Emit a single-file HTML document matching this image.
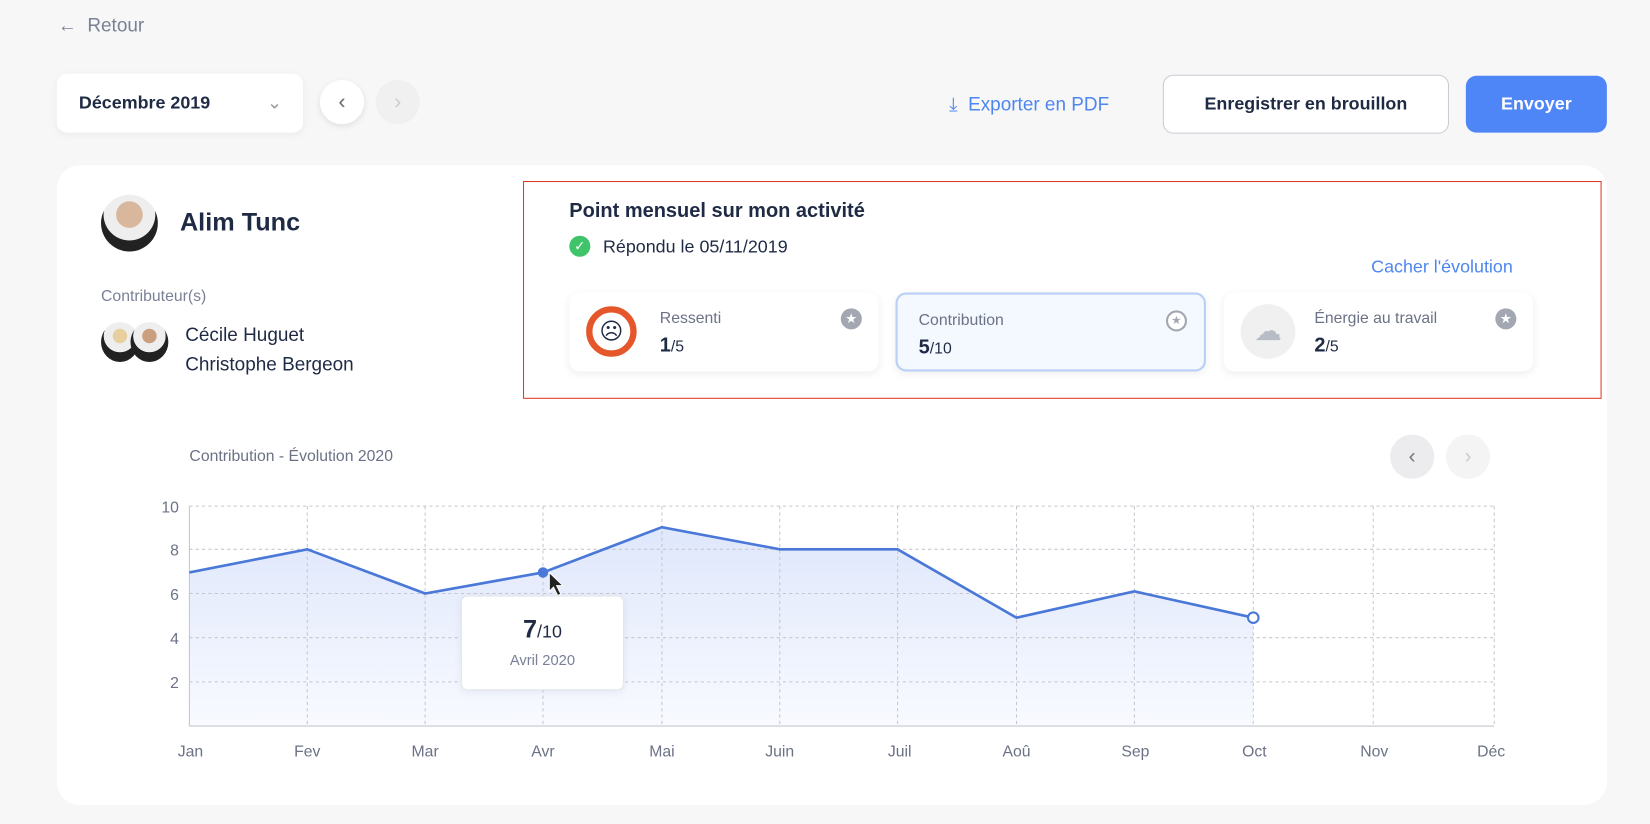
<!DOCTYPE html>
<html><head><meta charset="utf-8"><style>
*{box-sizing:border-box;margin:0;padding:0}
body{width:1650px;height:824px;background:#f7f7f8;font-family:"Liberation Sans",sans-serif;color:#1f2a44;position:relative;overflow:hidden}
#w{position:absolute;left:0;top:0;width:1568px;height:783px;transform:scale(1.05230);transform-origin:0 0}
.a{position:absolute}
.btn{position:absolute;border-radius:10px;display:flex;align-items:center;justify-content:center;font-size:17px;font-weight:bold}
.card{position:absolute;top:278px;height:75px;background:#fff;border-radius:10px;box-shadow:0 2px 8px rgba(0,0,0,.07)}
.lbl{position:absolute;left:86px;top:16px;font-size:15px;color:#6b7285}
.val{position:absolute;left:86px;top:40px;font-size:19px;font-weight:bold}
.val span{font-weight:normal;font-size:15px}
.star{position:absolute;right:16px;top:15px;width:20px;height:20px;border-radius:50%;background:#a3a7b2;color:#fff;font-size:13px;text-align:center;line-height:20px}
</style></head><body><div id="w">
<div class="a" style="left:55px;top:14px;font-size:18px;color:#7a8196">← &nbsp;Retour</div>
<div class="btn" style="left:54px;top:70px;width:234px;height:56px;background:#fff;justify-content:flex-start;padding-left:21px;box-shadow:0 2px 8px rgba(0,0,0,.05)">Décembre 2019<span style="position:absolute;right:20px;color:#999;font-weight:normal">⌄</span></div>
<div class="a" style="left:304px;top:76px;width:42px;height:42px;border-radius:50%;background:#fff;box-shadow:0 2px 6px rgba(0,0,0,.1);text-align:center;line-height:42px;color:#666;font-size:20px">‹</div>
<div class="a" style="left:357px;top:76px;width:42px;height:42px;border-radius:50%;background:#f0f0f1;text-align:center;line-height:42px;color:#ccc;font-size:20px">›</div>
<div class="a" style="left:902px;top:89px;font-size:18px;color:#4e86f0">⤓ &nbsp;Exporter en PDF</div>
<div class="btn" style="left:1105px;top:71px;width:272px;height:56px;background:#fff;border:1px solid #c9ccd3">Enregistrer en brouillon</div>
<div class="btn" style="left:1393px;top:72px;width:134px;height:54px;background:#4f86f7;color:#fff">Envoyer</div>
<div class="a" style="left:54px;top:157px;width:1473px;height:608px;background:#fff;border-radius:22px"></div>
<div class="a" style="left:96px;top:185px;width:54px;height:54px;border-radius:50%;background:radial-gradient(circle at 50% 35%,#d9b79d 0 28%,#eee 29% 55%,#222 56%)"></div>
<div class="a" style="left:171px;top:198px;font-size:24px;font-weight:bold">Alim Tunc</div>
<div class="a" style="left:96px;top:273px;font-size:15px;color:#7a8196">Contributeur(s)</div>
<div class="a" style="left:96px;top:306px;width:36px;height:38px;border-radius:50%;background:radial-gradient(circle at 50% 35%,#e8cfa0 0 22%,#eee 23% 50%,#222 51%)"></div>
<div class="a" style="left:124px;top:306px;width:36px;height:38px;border-radius:50%;background:radial-gradient(circle at 50% 35%,#c99f80 0 22%,#eee 23% 50%,#222 51%)"></div>
<div class="a" style="left:176px;top:304px;font-size:18px;line-height:28px">Cécile Huguet<br>Christophe Bergeon</div>
<div class="a" style="left:497px;top:172px;width:1025px;height:207px;border:1.5px solid #e23a26"></div>
<div class="a" style="left:541px;top:190px;font-size:19px;font-weight:bold">Point mensuel sur mon activité</div>
<div class="a" style="left:541px;top:224px;width:20px;height:20px;border-radius:50%;background:#3fc46a;color:#fff;font-size:13px;text-align:center;line-height:20px">✓</div>
<div class="a" style="left:573px;top:225px;font-size:17px">Répondu le 05/11/2019</div>
<div class="a" style="left:1303px;top:244px;font-size:17px;color:#4e86f0">Cacher l'évolution</div>
<div class="card" style="left:541px;width:294px"><div class="a" style="left:16px;top:13px;width:48px;height:48px;border-radius:50%;border:6px solid #e5572a;background:#fff;text-align:center;line-height:36px;font-size:22px">☹</div><div class="lbl">Ressenti</div><div class="val">1<span>/5</span></div><div class="star">★</div></div>
<div class="card" style="left:851px;width:295px;background:#f4f8ff;border:2px solid #b9cff8"><div class="lbl" style="left:20px">Contribution</div><div class="val" style="left:20px">5<span>/10</span></div><div class="star" style="background:#fff;border:2px solid #a3a7b2;color:#a3a7b2;line-height:16px;font-size:11px">★</div></div>
<div class="card" style="left:1163px;width:294px"><div class="a" style="left:16px;top:11px;width:52px;height:52px;border-radius:50%;background:#f0f0f1;text-align:center;line-height:50px;font-size:26px;color:#b8bcc4">☁</div><div class="lbl">Énergie au travail</div><div class="val">2<span>/5</span></div><div class="star">★</div></div>
<div class="a" style="left:180px;top:425px;font-size:15px;color:#6b7285">Contribution - Évolution 2020</div>
<div class="a" style="left:1321px;top:413px;width:42px;height:42px;border-radius:50%;background:#ececee;text-align:center;line-height:42px;color:#777;font-size:20px">‹</div>
<div class="a" style="left:1374px;top:413px;width:42px;height:42px;border-radius:50%;background:#f4f4f5;text-align:center;line-height:42px;color:#ccc;font-size:20px">›</div>
<svg class="a" style="left:0;top:0" width="1568" height="783">
<defs><linearGradient id="g" x1="0" y1="0" x2="0" y2="1"><stop offset="0" stop-color="#dfe7fb"/><stop offset="1" stop-color="#f8faff"/></linearGradient></defs>
<polygon points="180,544 292,522 404,564 516,544 629,501 741,522 853,522 966,587 1078,562 1191,587 1191,690 180,690" fill="url(#g)"/>
<g stroke="#c4c7cd" stroke-dasharray="3,3" fill="none">
<line x1="180" y1="481" x2="1420" y2="481"/><line x1="180" y1="522" x2="1420" y2="522"/><line x1="180" y1="564" x2="1420" y2="564"/><line x1="180" y1="606" x2="1420" y2="606"/><line x1="180" y1="648" x2="1420" y2="648"/>
<line x1="292" y1="481" x2="292" y2="690"/><line x1="404" y1="481" x2="404" y2="690"/><line x1="516" y1="481" x2="516" y2="690"/><line x1="629" y1="481" x2="629" y2="690"/><line x1="741" y1="481" x2="741" y2="690"/><line x1="853" y1="481" x2="853" y2="690"/><line x1="966" y1="481" x2="966" y2="690"/><line x1="1078" y1="481" x2="1078" y2="690"/><line x1="1191" y1="481" x2="1191" y2="690"/><line x1="1305" y1="481" x2="1305" y2="690"/><line x1="1420" y1="481" x2="1420" y2="690"/>
</g>
<line x1="180" y1="481" x2="180" y2="690" stroke="#c4c7cd"/><line x1="180" y1="690" x2="1420" y2="690" stroke="#c4c7cd"/>
<polyline points="180,544 292,522 404,564 516,544 629,501 741,522 853,522 966,587 1078,562 1191,587" fill="none" stroke="#4a78d8" stroke-width="2.5"/>
<circle cx="516" cy="544" r="5" fill="#4a78d8"/><circle cx="1191" cy="587" r="5" fill="#fff" stroke="#4a78d8" stroke-width="2"/>
<path d="M522,544 l0,18 l4,-4 l4,8 l3,-1.5 l-4,-8 l6,0 z" fill="#222" stroke="#fff" stroke-width="1"/>
<g font-family="Liberation Sans" font-size="15" fill="#6b7285" text-anchor="end"><text x="170" y="487">10</text><text x="170" y="528">8</text><text x="170" y="570">6</text><text x="170" y="612">4</text><text x="170" y="654">2</text></g>
<g font-family="Liberation Sans" font-size="15" fill="#6b7285" text-anchor="middle"><text x="181" y="719">Jan</text><text x="292" y="719">Fev</text><text x="404" y="719">Mar</text><text x="516" y="719">Avr</text><text x="629" y="719">Mai</text><text x="741" y="719">Juin</text><text x="855" y="719">Juil</text><text x="966" y="719">Aoû</text><text x="1079" y="719">Sep</text><text x="1192" y="719">Oct</text><text x="1306" y="719">Nov</text><text x="1417" y="719">Déc</text></g>
</svg>
<div class="a" style="left:438px;top:566px;width:155px;height:90px;background:#fff;border:1px solid #e4e6ea;border-radius:6px;box-shadow:0 2px 8px rgba(0,0,0,.06);text-align:center">
<div style="margin-top:18px;font-size:24px;font-weight:bold">7<span style="font-size:17px;font-weight:normal">/10</span></div>
<div style="margin-top:6px;font-size:14px;color:#7a8196">Avril 2020</div></div>
</div></body></html>
